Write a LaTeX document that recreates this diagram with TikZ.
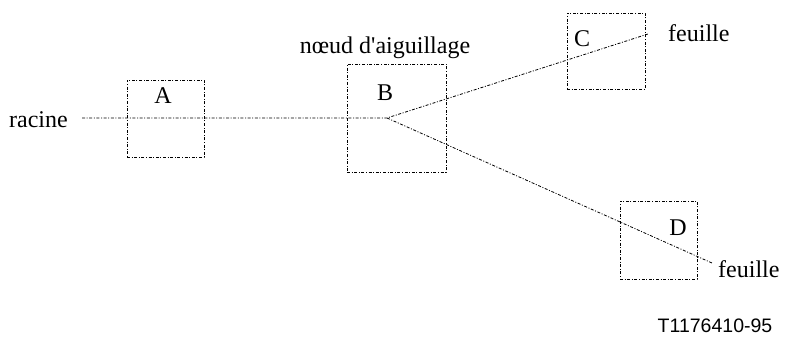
\documentclass[tikz,border=0pt]{standalone}
\usepackage{fontspec}
\setmainfont{Liberation Serif}
\newfontfamily\labelsans{Liberation Sans}
\usetikzlibrary{positioning}
\tikzset{
  dashdot/.style={line width=0.8pt, dash pattern=on 3pt off 1.6pt on 1pt off 1.6pt},
  nodebox/.style={dashdot, draw, inner sep=0pt},
  txt/.style={inner sep=0pt, font=\fontsize{24}{26}\selectfont}
}
\begin{document}
\begin{tikzpicture}[x=1pt, y=-1pt, line cap=butt, line join=round]
  \useasboundingbox (0,0) rectangle (787,342);
  % boxes
  \node[nodebox, minimum width=77pt, minimum height=77pt] (A) at (165.5,118.5) {};
  \node[nodebox, minimum width=99pt, minimum height=108pt] (B) at (396.5,118) {};
  \node[nodebox, minimum width=78pt, minimum height=76pt] (C) at (606,51) {};
  \node[nodebox, minimum width=77pt, minimum height=78pt] (D) at (658.5,240) {};
  % tree
  \path (82,118) coordinate (root)
        (387,118) coordinate (fork)
        (648,34) coordinate (leafC)
        (712,263) coordinate (leafD);
  \draw[dashdot] (root) -- (fork) -- (leafC)
        (fork) -- (leafD);
  % texts
  \node[txt] (lA) at (163,96) {A};
  \node[txt] (lB) at (385,93) {B};
  \node[txt] (lC) at (582,39) {C};
  \node[txt] (lD) at (678,228) {D};
  \node[txt, anchor=east] (racine) at (68,120) {racine};
  \node[txt] (aig) at (385,48) {nœud d\textquotesingle aiguillage};
  \node[txt, anchor=west] (feuC) at (668,33) {feuille};
  \node[txt, anchor=west] (feuD) at (718,269) {feuille};
  \node[inner sep=0pt, font=\labelsans\fontsize{19.5}{21}\selectfont] (ref) at (715,326) {T1176410-95};
\end{tikzpicture}
\end{document}
